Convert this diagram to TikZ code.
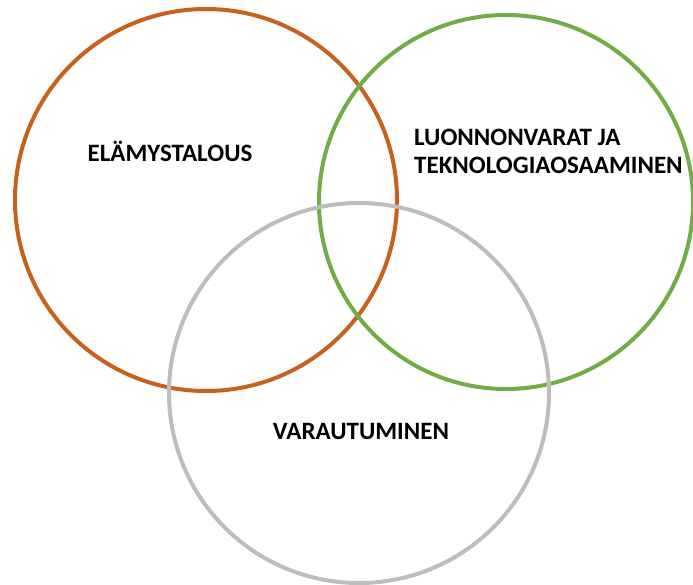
\documentclass[tikz,border=0pt]{standalone}
\usepackage{fontspec}
\setmainfont{Carlito}
\definecolor{ringorange}{HTML}{C8611E}
\definecolor{ringgreen}{HTML}{70AD47}
\definecolor{ringgray}{HTML}{BDBDBD}

\begin{document}
\begin{tikzpicture}[x=1pt,y=-1pt,
    ring/.style={line width=4pt},
    area/.style={font=\fontsize{25}{28}\selectfont\bfseries, inner sep=0pt}]
  \useasboundingbox (0,0) rectangle (693,584);
  \coordinate (cexp) at (206,200);
  \coordinate (cnat) at (506,202);
  \coordinate (cprep) at (359,393);
  \draw[ring,ringorange] (cexp) circle (191);
  \draw[ring,ringgreen] (cnat) circle (187);
  \draw[ring,ringgray] (cprep) circle (190);
  \node[area] (exp) at (170,151) {ELÄMYSTALOUS};
  \node[area, align=left, anchor=west] (nat) at (414,151) {LUONNONVARAT JA\\TEKNOLOGIAOSAAMINEN};
  \node[area] (prep) at (361,431) {VARAUTUMINEN};
\end{tikzpicture}
\end{document}
